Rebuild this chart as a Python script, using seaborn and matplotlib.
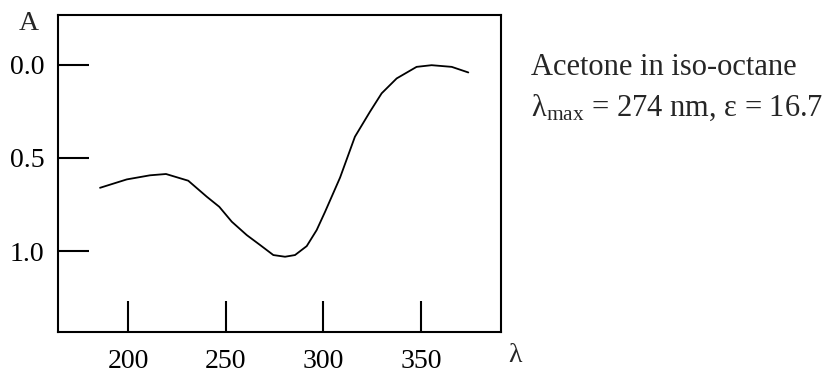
import matplotlib
matplotlib.use("Agg")
import matplotlib.pyplot as plt
import seaborn as sns
import pandas as pd

# Data (wavelength nm, absorbance A)
wavelength = [185.6, 199.3, 211.2, 219.4, 230.8, 240.3, 246.7, 253.1, 260.8, 267.6,
              274.4, 280.4, 285.5, 291.5, 296.6, 300.9, 308.6, 316.2, 323.9, 329.9,
              337.6, 347.8, 355.5, 365.8, 374.3]
absorbance = [0.660, 0.615, 0.593, 0.586, 0.622, 0.708, 0.762, 0.842, 0.914, 0.967,
              1.021, 1.030, 1.021, 0.973, 0.887, 0.789, 0.605, 0.386, 0.252, 0.153,
              0.073, 0.011, 0.002, 0.011, 0.041]
x_ticks = [200, 250, 300, 350]
y_ticks = [0.0, 0.5, 1.0]
y_ticklabels = ["0.0", "0.5", "1.0"]

df = pd.DataFrame({"wavelength": wavelength, "A": absorbance})

sns.set_theme(style="white")
plt.rcParams["font.family"] = ["Liberation Serif", "DejaVu Serif"]
plt.rcParams["mathtext.fontset"] = "custom"
plt.rcParams["mathtext.rm"] = "Liberation Serif"
plt.rcParams["mathtext.it"] = "Liberation Serif"
plt.rcParams["mathtext.default"] = "rm"

fig = plt.figure(figsize=(8.37, 3.72), dpi=100)
ax = fig.add_axes([0.0687, 0.1075, 0.5295, 0.852])

sns.lineplot(data=df, x="wavelength", y="A", ax=ax, color="black", linewidth=1.3,
             sort=False, estimator=None)

ax.set_xlim(163.8, 390.9)
ax.set_ylim(1.434, -0.267)
ax.set_xticks(x_ticks)
ax.set_xticklabels([str(t) for t in x_ticks])
ax.set_yticks(y_ticks)
ax.set_yticklabels(y_ticklabels)
ax.set_xlabel("")
ax.set_ylabel("")

for s in ax.spines.values():
    s.set_visible(True)
    s.set_color("black")
    s.set_linewidth(1.5)

ax.tick_params(axis="both", which="major", direction="in", length=22, width=1.5,
               color="black", labelsize=20, labelcolor="black")
ax.tick_params(axis="x", pad=12, bottom=True, top=False)
ax.tick_params(axis="y", pad=9.5, left=True, right=False)

fig.text(29 / 837, 1 - 23 / 372, "A", ha="center", va="center", fontsize=20)
fig.text(515 / 837, 1 - 355 / 372, "λ", ha="center", va="center", fontsize=20)

fig.text(531 / 837, 1 - 75 / 372, "Acetone in iso-octane", ha="left", va="baseline",
         fontsize=22)
fig.text(531 / 837, 1 - 116 / 372, r"λ$_{\mathrm{max}}$ = 274 nm, ε = 16.7",
         ha="left", va="baseline", fontsize=22)

fig.savefig("out.png", dpi=100, facecolor="white")
